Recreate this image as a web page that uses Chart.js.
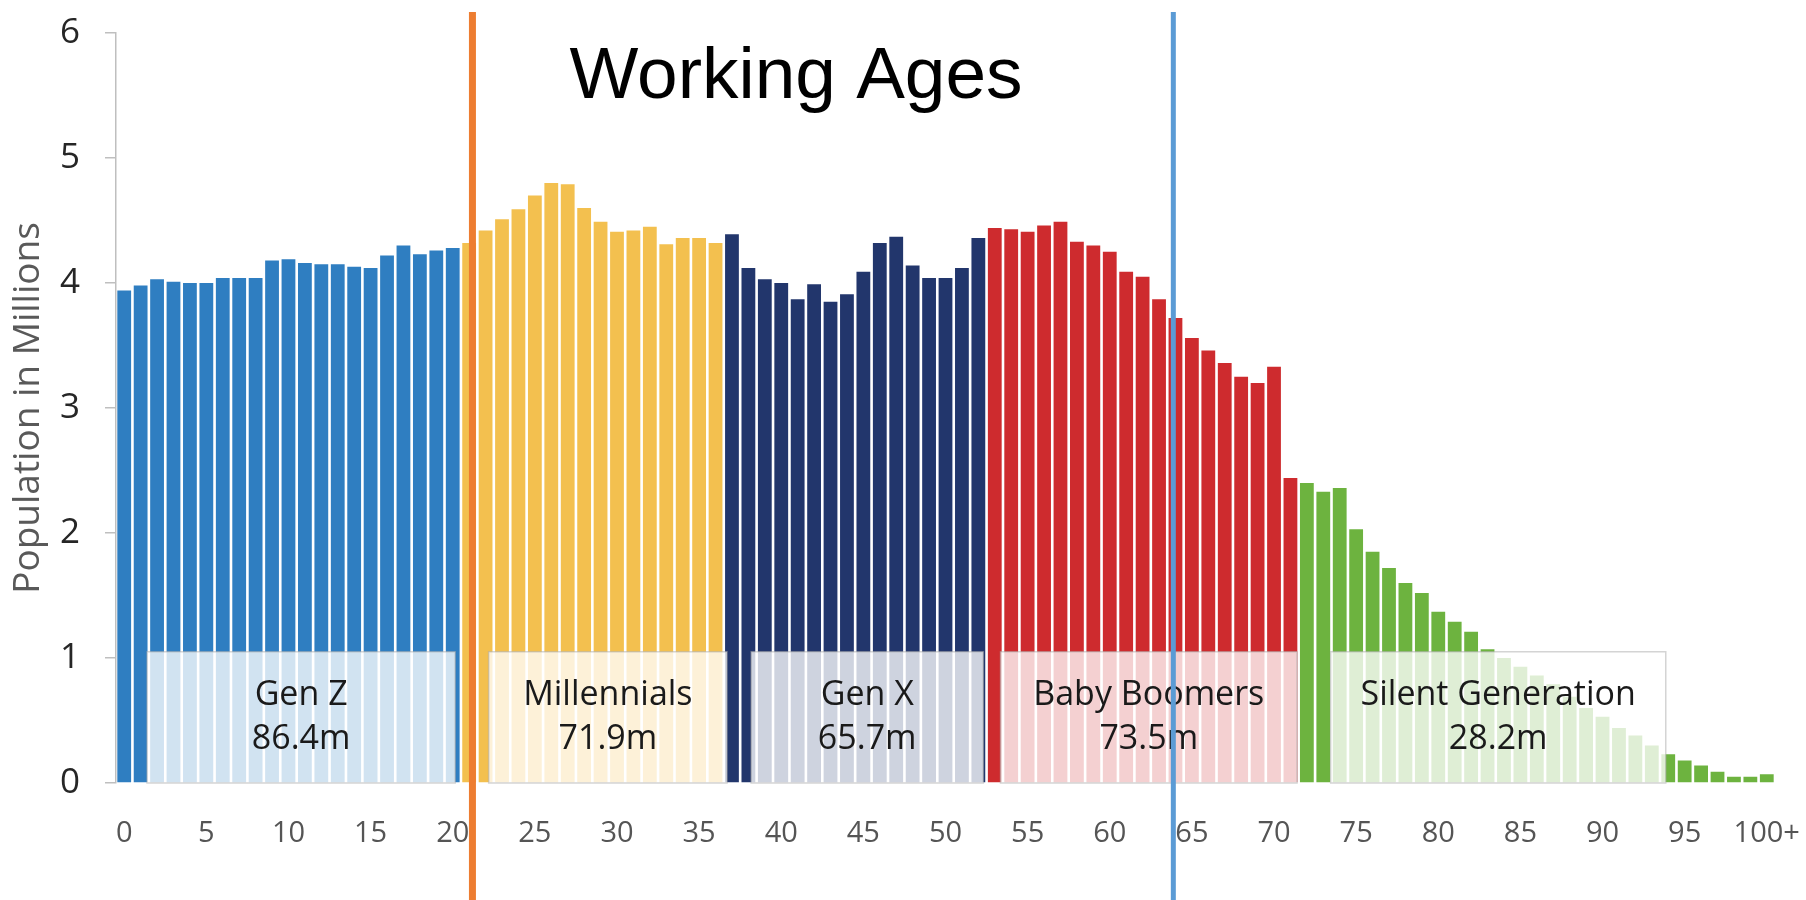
<!DOCTYPE html>
<html>
<head>
<meta charset="utf-8">
<script src="https://cdn.jsdelivr.net/npm/chart.js@4.4.1/dist/chart.umd.min.js"></script>
<style>
  html, body { margin: 0; padding: 0; background: #ffffff; }
  #wrap { width: 1806px; height: 900px; }
</style>
</head>
<body>
<div id="wrap"><canvas id="c" width="1806" height="900"></canvas></div>
<script>
// ---- Data ----
const ageLabels = ['0','1','2','3','4','5','6','7','8','9','10','11','12','13','14','15','16','17','18','19',
  '20','21','22','23','24','25','26','27','28','29','30','31','32','33','34','35','36','37','38','39',
  '40','41','42','43','44','45','46','47','48','49','50','51','52','53','54','55','56','57','58','59',
  '60','61','62','63','64','65','66','67','68','69','70','71','72','73','74','75','76','77','78','79',
  '80','81','82','83','84','85','86','87','88','89','90','91','92','93','94','95','96','97','98','99','100+'];

const populationMillions = [
  3.94, 3.98, 4.03, 4.01, 4.00, 4.00, 4.04, 4.04, 4.04, 4.18,
  4.19, 4.16, 4.15, 4.15, 4.13, 4.12, 4.22, 4.30, 4.23, 4.26,
  4.28, 4.32, 4.42, 4.51, 4.59, 4.70, 4.80, 4.79, 4.60, 4.49,
  4.41, 4.42, 4.45, 4.31, 4.36, 4.36, 4.32, 4.39, 4.12, 4.03,
  4.00, 3.87, 3.99, 3.85, 3.91, 4.09, 4.32, 4.37, 4.14, 4.04,
  4.04, 4.12, 4.36, 4.44, 4.43, 4.41, 4.46, 4.49, 4.33, 4.30,
  4.25, 4.09, 4.05, 3.87, 3.72, 3.56, 3.46, 3.36, 3.25, 3.20,
  3.33, 2.44, 2.40, 2.33, 2.36, 2.03, 1.85, 1.72, 1.60, 1.52,
  1.37, 1.29, 1.21, 1.07, 1.00, 0.93, 0.86, 0.79, 0.69, 0.60,
  0.53, 0.44, 0.38, 0.30, 0.23, 0.18, 0.14, 0.09, 0.05, 0.05,
  0.07];

const yTicks = [0, 1, 2, 3, 4, 5, 6];

const generationNames  = ['Gen Z', 'Millennials', 'Gen X', 'Baby Boomers', 'Silent Generation'];
const generationTotals = ['86.4m', '71.9m', '65.7m', '73.5m', '28.2m'];
const generationFirstAge = [0, 21, 37, 53, 72];
const generationLastAge  = [20, 36, 52, 71, 100];

const chartTitle = 'Working Ages';
const yAxisTitle = 'Population in Millions';

// ---- Styles / annotation placement ----
const generationColors = ['#2f7ec1', '#f3c04f', '#22366c', '#ce2b2e', '#6db33f'];
const boxFromEdge = [1.89, 22.69, 38.67, 53.85, 73.95];
const boxToEdge   = [20.65, 37.2, 52.8, 71.9, 94.35];
const boxTopValue = 1.05;
const workingAgeLines = [
  { at: 21.2,  color: '#ed7d31', width: 7 },
  { at: 63.87, color: '#5b9bd5', width: 5 }
];

const barColors = populationMillions.map((v, i) => {
  for (let g = 0; g < generationFirstAge.length; g++) {
    if (i >= generationFirstAge[g] && i <= generationLastAge[g]) return generationColors[g];
  }
  return '#888';
});

const FONT = "'Open Sans', 'DejaVu Sans', sans-serif";

const overlayPlugin = {
  id: 'overlay',
  afterDatasetsDraw(chart) {
    const ctx = chart.ctx;
    const xs = chart.scales.x, ys = chart.scales.y;
    const x0 = xs.getPixelForValue(0), x1 = xs.getPixelForValue(1);
    const pitch = x1 - x0;
    const edgePx = e => x0 + (e - 0.5) * pitch;
    const yTop = ys.getPixelForValue(boxTopValue);
    const yBot = ys.getPixelForValue(0);
    ctx.save();
    for (let g = 0; g < generationNames.length; g++) {
      const l = edgePx(boxFromEdge[g]), r = edgePx(boxToEdge[g]);
      ctx.fillStyle = 'rgba(255,255,255,0.78)';
      ctx.fillRect(l, yTop, r - l, yBot - yTop);
      ctx.strokeStyle = 'rgba(170,170,170,0.5)';
      ctx.lineWidth = 1.5;
      ctx.strokeRect(l, yTop, r - l, yBot - yTop);
      const cx = (l + r) / 2;
      const h = yBot - yTop;
      ctx.fillStyle = '#1a1a1a';
      ctx.font = '34px ' + FONT;
      ctx.textAlign = 'center';
      ctx.textBaseline = 'middle';
      ctx.fillText(generationNames[g], cx, yTop + h * 0.33);
      ctx.fillText(generationTotals[g], cx, yTop + h * 0.67);
    }
    ctx.restore();
  },
  afterDraw(chart) {
    const ctx = chart.ctx;
    const xs = chart.scales.x;
    const x0 = xs.getPixelForValue(0), x1 = xs.getPixelForValue(1);
    const pitch = x1 - x0;
    ctx.save();
    workingAgeLines.forEach(line => {
      const x = x0 + line.at * pitch;
      ctx.strokeStyle = line.color;
      ctx.lineWidth = line.width;
      ctx.beginPath();
      ctx.moveTo(x, 12);
      ctx.lineTo(x, chart.height);
      ctx.stroke();
    });
    ctx.fillStyle = '#000000';
    ctx.font = "73px 'Liberation Sans', Arial, sans-serif";
    ctx.textAlign = 'center';
    ctx.textBaseline = 'alphabetic';
    ctx.fillText(chartTitle, 796, 98);
    ctx.restore();
  }
};

new Chart(document.getElementById('c'), {
  type: 'bar',
  data: {
    labels: ageLabels,
    datasets: [{
      data: populationMillions,
      backgroundColor: barColors,
      borderWidth: 0,
      barPercentage: 0.84,
      categoryPercentage: 1.0
    }]
  },
  options: {
    responsive: false,
    devicePixelRatio: 1,
    animation: false,
    layout: { padding: { top: 33, right: 31, left: 0, bottom: 0 } },
    plugins: {
      legend: { display: false },
      tooltip: { enabled: false },
      title: { display: false }
    },
    scales: {
      x: {
        offset: true,
        grid: { display: false, drawTicks: false },
        border: { display: false },
        ticks: {
          autoSkip: false,
          maxRotation: 0,
          minRotation: 0,
          padding: 33,
          color: '#555555',
          font: { family: FONT, size: 29 },
          callback: function(value, index) {
            return index % 5 === 0 ? ageLabels[index] : '';
          }
        },
        afterFit: s => { s.height = 117; s.paddingLeft = 0; s.paddingRight = 0; }
      },
      y: {
        min: 0,
        max: 6,
        afterBuildTicks: s => { s.ticks = yTicks.map(v => ({ value: v })); },
        grid: { display: true, drawOnChartArea: false, drawTicks: true, tickLength: 11, color: '#bfbfbf', lineWidth: 1.5 },
        border: { display: true, color: '#bfbfbf', width: 1.5 },
        ticks: {
          padding: 25,
          color: '#262626',
          font: { family: FONT, size: 35 }
        },
        title: {
          display: true,
          text: yAxisTitle,
          color: '#595959',
          font: { family: FONT, size: 37 },
          padding: { top: 6, bottom: 0 }
        },
        afterFit: s => { s.width = 116; s.paddingTop = 0; s.paddingBottom = 0; }
      }
    }
  },
  plugins: [overlayPlugin]
});
</script>
</body>
</html>
